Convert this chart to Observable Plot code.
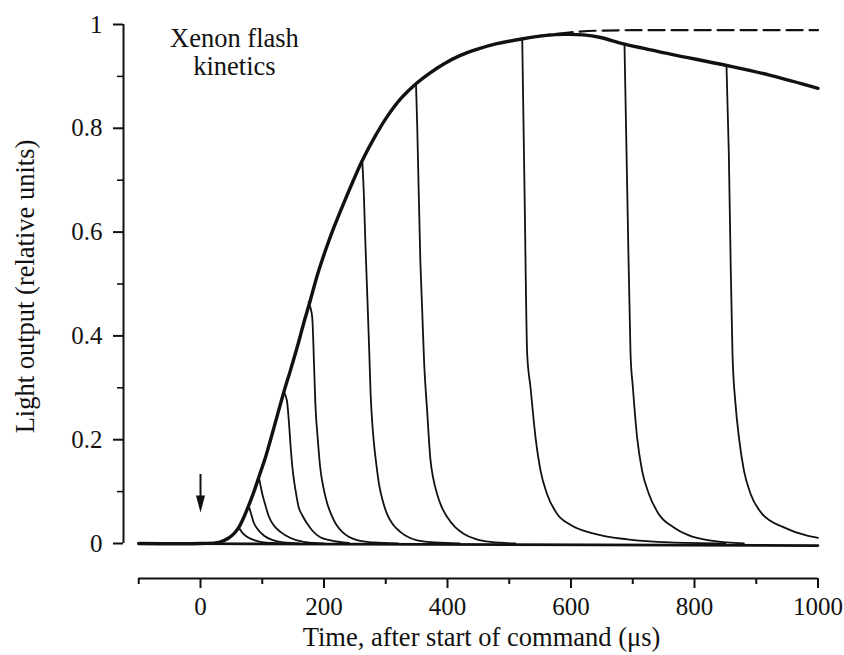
<!DOCTYPE html>
<html>
<head>
<meta charset="utf-8">
<script src="https://cdn.jsdelivr.net/npm/d3@7"></script>
<script src="https://cdn.jsdelivr.net/npm/@observablehq/plot@0.6"></script>
<style>
  html, body { margin: 0; padding: 0; background: #fff; }
</style>
</head>
<body>
<div id="chart"></div>
<script>
// ---- Data ----
// Full (uninterrupted) flash envelope
const envelopeT = [-100, 0, 30, 45, 55, 62, 70, 78, 86, 94.5, 105, 113, 124, 135, 146, 157, 167, 177, 190, 203, 216, 232, 247, 262, 282, 302, 325, 349, 372, 394, 420, 450, 480, 520, 560, 590, 620, 648, 687, 761, 852, 923, 1000];
const envelopeV = [0, 0, 0.002, 0.01, 0.02, 0.031, 0.05, 0.073, 0.098, 0.128, 0.165, 0.198, 0.245, 0.292, 0.335, 0.38, 0.424, 0.465, 0.52, 0.567, 0.609, 0.656, 0.698, 0.738, 0.783, 0.822, 0.858, 0.886, 0.907, 0.924, 0.94, 0.953, 0.963, 0.972, 0.979, 0.981, 0.98, 0.975, 0.962, 0.943, 0.921, 0.902, 0.877];

// Dashed plateau
const dashedT = [540, 570, 600, 640, 700, 800, 900, 1000];
const dashedV = [0.976, 0.981, 0.985, 0.988, 0.989, 0.989, 0.989, 0.989];

// Baseline
const baselineT = [-100, 1000];
const baselineV = [0, -0.004];

// Truncated flashes (time, light output)
const pulseT = [
  [62, 67, 72, 78, 88, 102, 130],
  [78, 82, 86, 93, 103, 116, 134, 160],
  [94.5, 97, 100, 105, 111, 120, 130, 145, 167, 200],
  [135, 140, 143, 146, 150, 154, 159, 165, 173, 181, 194, 211, 240],
  [175, 178, 181, 184, 186, 190, 194, 199, 205, 212, 220, 230, 240, 255, 280, 320],
  [262, 264.5, 267, 270, 273, 275.5, 278, 281, 285, 289, 295, 302, 312, 324, 337, 351, 380, 420],
  [349, 351, 356, 359, 362, 367, 372.5, 377, 383, 390, 399.5, 412, 426, 445, 470, 510],
  [521, 525, 529, 534.4, 542.5, 550.6, 561, 577.6, 599, 637, 691, 760, 850],
  [686.6, 692, 696.4, 700.2, 707, 715, 726, 742, 766.5, 790, 830, 880],
  [851.8, 855.6, 858.3, 861.5, 866.4, 871.9, 880, 890.7, 909.6, 944.7, 982.5, 1000]
];
const pulseV = [
  [0.031, 0.022, 0.016, 0.011, 0.006, 0.002, 0],
  [0.073, 0.057, 0.041, 0.027, 0.015, 0.007, 0.002, 0],
  [0.128, 0.113, 0.096, 0.074, 0.051, 0.033, 0.022, 0.011, 0.003, 0],
  [0.292, 0.275, 0.237, 0.186, 0.134, 0.102, 0.07, 0.054, 0.038, 0.025, 0.012, 0.006, 0.001],
  [0.465, 0.455, 0.435, 0.34, 0.27, 0.2, 0.145, 0.108, 0.078, 0.055, 0.036, 0.022, 0.013, 0.006, 0.002, 0],
  [0.738, 0.674, 0.58, 0.481, 0.38, 0.288, 0.235, 0.192, 0.15, 0.115, 0.083, 0.057, 0.036, 0.022, 0.012, 0.006, 0.002, 0],
  [0.886, 0.802, 0.545, 0.45, 0.353, 0.256, 0.16, 0.125, 0.096, 0.072, 0.051, 0.032, 0.019, 0.009, 0.003, 0],
  [0.972, 0.66, 0.366, 0.301, 0.205, 0.141, 0.096, 0.057, 0.036, 0.019, 0.008, 0.002, 0],
  [0.962, 0.622, 0.366, 0.301, 0.205, 0.141, 0.096, 0.057, 0.031, 0.016, 0.005, 0],
  [0.921, 0.751, 0.558, 0.366, 0.269, 0.205, 0.141, 0.096, 0.057, 0.031, 0.015, 0.011]
];

// Arrow marking the command (t = 0)
const arrowX = [0];
const arrowStem = [0.133, 0.078];
const arrowHeadY = [0.076];

// Ticks and labels
const xMajor = [0, 200, 400, 600, 800, 1000];
const xTickLabels = ["0", "200", "400", "600", "800", "1000"];
const xMinor = [-100, 100, 300, 500, 700, 900];
const yMajor = [0, 0.2, 0.4, 0.6, 0.8, 1];
const yTickLabels = ["0", "0.2", "0.4", "0.6", "0.8", "1"];
const yMinor = [0.1, 0.3, 0.5, 0.7, 0.9];

const annotation = ["Xenon flash\nkinetics"];
const xLabel = ["Time, after start of command (\u03bcs)"];
const yLabel = ["Light output (relative units)"];

// ---- Build tables ----
const rows = (T, V, id) => T.map((t, i) => ({t, v: V[i], id}));
const envelope = rows(envelopeT, envelopeV, "env");
const dashed = rows(dashedT, dashedV, "dash");
const baseline = rows(baselineT, baselineV, "base");
const pulses = pulseT.flatMap((T, k) => rows(T, pulseV[k], "p" + k));

const arrowHead = {
  draw(ctx, size) {
    const r = Math.sqrt(size / Math.PI);
    ctx.moveTo(-0.53 * r, -r);
    ctx.lineTo(0.53 * r, -r);
    ctx.lineTo(0, r);
    ctx.closePath();
  }
};

const ink = "#111";
const font = "'Liberation Serif', 'Times New Roman', Times, serif";

const chart = Plot.plot({
  width: 844,
  height: 655,
  marginLeft: 123,
  marginRight: 5,
  marginTop: 0,
  marginBottom: 77,
  x: {domain: [-100, 1000], range: [138.25, 817.5], label: null},
  y: {domain: [0, 1], range: [543, 24], label: null},
  style: {fontFamily: font, background: "#fff", color: ink, overflow: "visible"},
  marks: [
    // axes lines
    Plot.ruleY([0], {x1: -100, x2: 1000, dy: 35, stroke: ink, strokeWidth: 2}),
    Plot.ruleX([-100], {y1: 0, y2: 1, dx: -15.25, stroke: ink, strokeWidth: 2}),
    // ticks
    Plot.axisX(xMajor, {tickSize: 10, tickPadding: 9, fontSize: 25, strokeWidth: 2, stroke: ink, fill: ink, label: null,
      tickFormat: d => xTickLabels[xMajor.indexOf(d)]}),
    Plot.axisX(xMinor, {tickSize: 6, strokeWidth: 2, stroke: ink, label: null, tickFormat: () => ""}),
    Plot.axisY(yMajor, {tickSize: 10, tickPadding: 11, fontSize: 25, strokeWidth: 2, stroke: ink, fill: ink, label: null,
      tickFormat: d => yTickLabels[yMajor.indexOf(d)]}),
    Plot.axisY(yMinor, {tickSize: 6, strokeWidth: 1.6, stroke: ink, label: null, tickFormat: () => ""}),
    // data
    Plot.line(baseline, {x: "t", y: "v", stroke: ink, strokeWidth: 2.6}),
    Plot.line(pulses, {x: "t", y: "v", z: "id", stroke: ink, strokeWidth: 1.8, curve: "monotone-x"}),
    Plot.line(dashed, {x: "t", y: "v", stroke: ink, strokeWidth: 2.2, strokeDasharray: "16,7", curve: "monotone-x"}),
    Plot.line(envelope, {x: "t", y: "v", stroke: ink, strokeWidth: 3.4, curve: "catmull-rom"}),
    // arrow
    Plot.ruleX(arrowX, {y1: arrowStem[0], y2: arrowStem[1], stroke: ink, strokeWidth: 2}),
    Plot.dot(arrowX, {x: d => d, y: arrowHeadY[0], symbol: arrowHead, r: 8.5, fill: ink, stroke: "none"}),
    // texts
    Plot.text(annotation, {x: 55, y: 0.995, text: d => d, fontSize: 26.5, lineAnchor: "top", lineHeight: 1.06, textAnchor: "middle", fill: ink}),
    Plot.text(xLabel, {frameAnchor: "bottom", text: d => d, dy: 59, fontSize: 26.5, lineAnchor: "middle", textAnchor: "middle", fill: ink}),
    Plot.text(yLabel, {frameAnchor: "left", text: d => d, dx: -98, dy: -3, rotate: -90, fontSize: 26.5, lineAnchor: "middle", textAnchor: "middle", fill: ink})
  ]
});

document.getElementById("chart").appendChild(chart);
</script>
</body>
</html>
